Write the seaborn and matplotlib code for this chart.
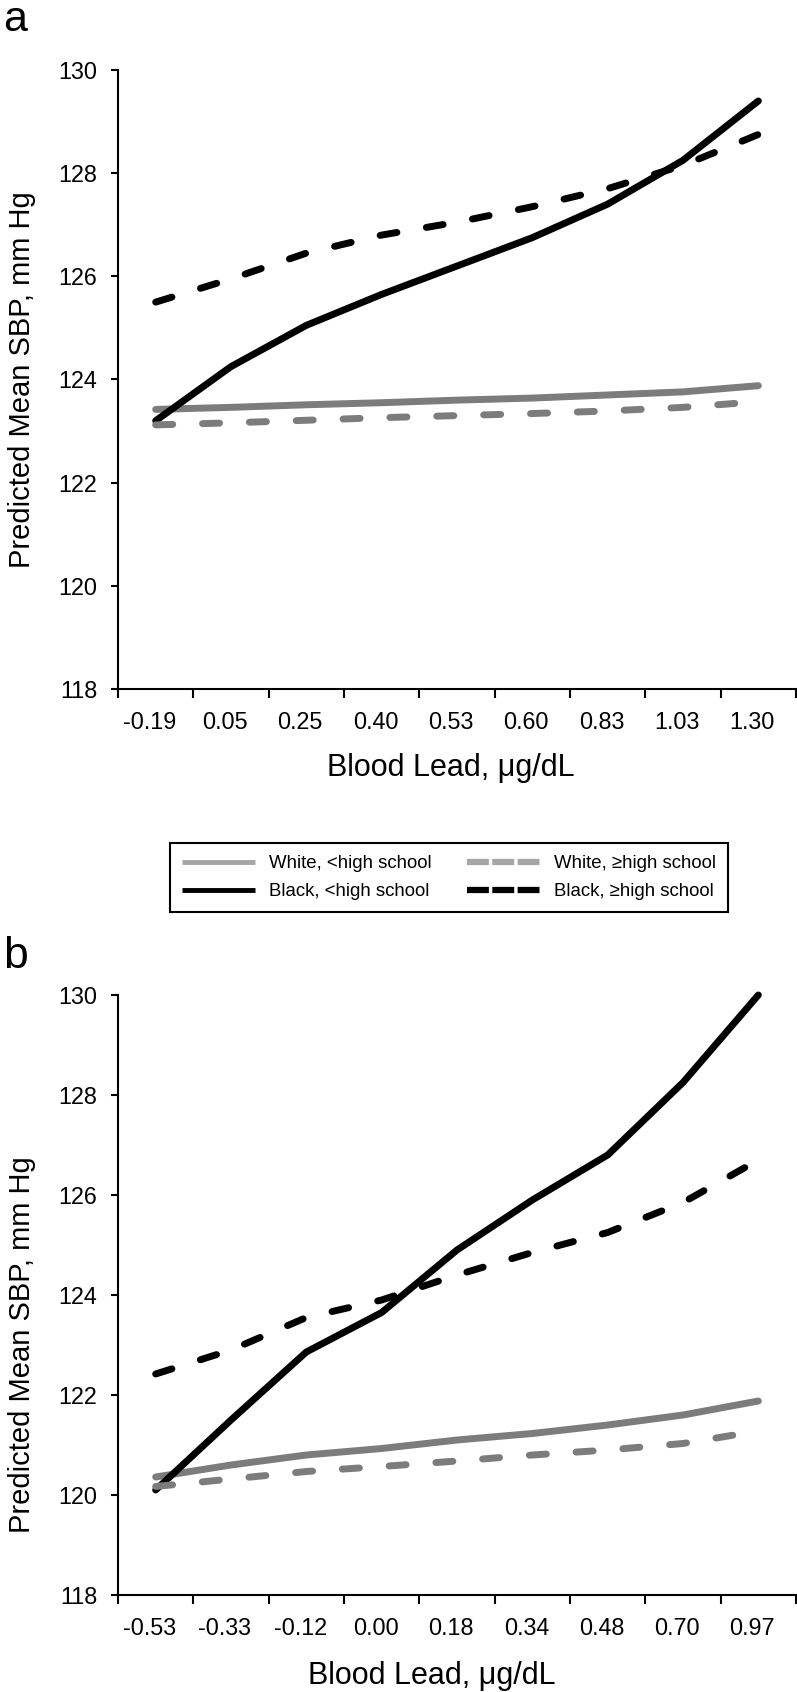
import matplotlib
matplotlib.use('Agg')
import matplotlib.pyplot as plt
import seaborn as sns
import pandas as pd
import numpy as np
from matplotlib.lines import Line2D

# Datos
groups = ['White, <high school', 'Black, <high school',
          'White, \u2265high school', 'Black, \u2265high school']

lead_a = ['-0.19', '0.05', '0.25', '0.40', '0.53', '0.60', '0.83', '1.03', '1.30']
white_lt_a = [123.42, 123.46, 123.51, 123.55, 123.60, 123.64, 123.70, 123.76, 123.88]
black_lt_a = [123.20, 124.25, 125.05, 125.65, 126.20, 126.75, 127.40, 128.25, 129.40]
white_ge_a = [123.12, 123.16, 123.21, 123.26, 123.30, 123.34, 123.39, 123.46, 123.57]
black_ge_a = [125.50, 125.95, 126.45, 126.80, 127.05, 127.35, 127.70, 128.15, 128.75]

lead_b = ['-0.53', '-0.33', '-0.12', '0.00', '0.18', '0.34', '0.48', '0.70', '0.97']
white_lt_b = [120.36, 120.60, 120.80, 120.93, 121.10, 121.23, 121.40, 121.60, 121.88]
black_lt_b = [120.10, 121.50, 122.86, 123.65, 124.90, 125.90, 126.80, 128.25, 130.00]
white_ge_b = [120.17, 120.32, 120.47, 120.57, 120.68, 120.80, 120.90, 121.03, 121.28]
black_ge_b = [122.42, 122.90, 123.55, 123.90, 124.40, 124.85, 125.25, 125.85, 126.70]

y_ticks = [118, 120, 122, 124, 126, 128, 130]

GRAY = '#7c7c7c'
GRAY_LEGEND = '#a6a6a6'
palette = {groups[0]: GRAY, groups[1]: 'black', groups[2]: GRAY, groups[3]: 'black'}
dash_map = {groups[0]: '', groups[1]: '', groups[2]: (2.45, 4.3), groups[3]: (2.45, 4.3)}

W, H = 797, 1692


def build_frame(labels, series):
    rows = []
    for group, values in zip(groups, series):
        for pos, (lab, val) in enumerate(zip(labels, values)):
            rows.append({'pos': pos, 'lead': lab, 'sbp': val, 'group': group})
    return pd.DataFrame(rows)


def draw_panel(ax, labels, series, ylab_y, xlab_xy):
    df = build_frame(labels, series)
    sns.lineplot(data=df, x='pos', y='sbp', hue='group', style='group',
                 hue_order=groups, style_order=groups, palette=palette,
                 dashes=dash_map, linewidth=5, sort=False, legend=False, ax=ax)
    for line in ax.lines:
        line.set_dash_capstyle('round')
        line.set_solid_capstyle('round')
        line.set_clip_on(False)

    n = len(labels)
    ax.set_xlim(-0.5, n - 0.5)
    ax.set_ylim(118, 130)
    ax.set_yticks(y_ticks)
    # etiquetas centradas (un poco a la izquierda), marcas entre categorias
    ax.set_xticks(np.arange(n) - 0.08, labels=labels)
    ax.set_xticks(np.arange(n + 1) - 0.5, minor=True)
    ax.tick_params(axis='x', which='major', length=0, pad=15.5, labelsize=16.8)
    ax.tick_params(axis='x', which='minor', length=6.5, width=1.5, direction='out')
    ax.tick_params(axis='y', length=5, width=1.5, pad=10, labelsize=16.8, direction='out')

    sns.despine(ax=ax)
    for side in ['left', 'bottom']:
        ax.spines[side].set_linewidth(1.5)
        ax.spines[side].set_color('black')

    ax.set_ylabel('Predicted Mean SBP, mm Hg', fontsize=21)
    ax.yaxis.set_label_coords(-0.121, ylab_y)
    ax.set_xlabel('Blood Lead, \u03bcg/dL', fontsize=22)
    ax.xaxis.set_label_coords(*xlab_xy)


sns.set_style('ticks')
plt.rcParams['font.family'] = ['Liberation Sans', 'DejaVu Sans']
plt.rcParams['text.color'] = 'black'
plt.rcParams['xtick.color'] = 'black'
plt.rcParams['ytick.color'] = 'black'
plt.rcParams['axes.labelcolor'] = 'black'

fig = plt.figure(figsize=(W / 100, H / 100), dpi=100)

ax_a = fig.add_axes([118 / W, 1 - 689 / H, 678 / W, 619 / H])
draw_panel(ax_a, lead_a, [white_lt_a, black_lt_a, white_ge_a, black_ge_a],
           0.5, (0.491, -0.103))

ax_b = fig.add_axes([118 / W, 1 - 1595 / H, 678 / W, 600 / H])
draw_panel(ax_b, lead_b, [white_lt_b, black_lt_b, white_ge_b, black_ge_b],
           0.417, (0.463, -0.11))

fig.text(3 / W, 1 - 31 / H, 'a', fontsize=31, ha='left', va='baseline')
fig.text(3 / W, 1 - 968 / H, 'b', fontsize=32, ha='left', va='baseline')

# Leyenda comun entre los dos paneles
handles = [
    Line2D([], [], color=GRAY_LEGEND, lw=3.5, solid_capstyle='butt'),
    Line2D([], [], color='black', lw=3.5, solid_capstyle='butt'),
    Line2D([], [], color=GRAY_LEGEND, lw=4.5, dashes=(3.5, 0.55), dash_capstyle='butt'),
    Line2D([], [], color='black', lw=4.5, dashes=(3.5, 0.55), dash_capstyle='butt'),
]
leg = fig.legend(handles, groups, ncol=2, loc='upper left',
                 bbox_to_anchor=(170 / W, 1 - 843 / H, (728 - 170) / W, 0),
                 mode='expand', frameon=True, fancybox=False, edgecolor='black',
                 fontsize=13.4, handlelength=3.9, handletextpad=0.75,
                 borderpad=0.65, labelspacing=0.6, borderaxespad=0)
leg.get_frame().set_linewidth(1.5)
leg.get_frame().set_alpha(1)

plt.savefig('out.png', dpi=100)
plt.close()
